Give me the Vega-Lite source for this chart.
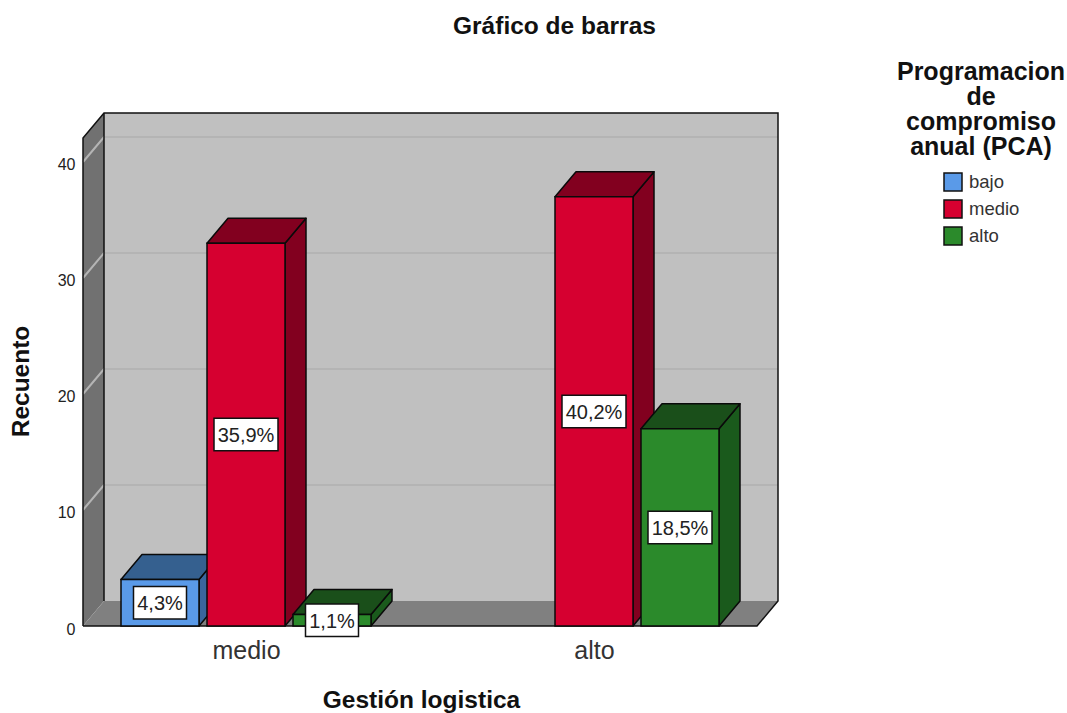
{
"$schema":"https://vega.github.io/schema/vega-lite/v6.json",
"autosize":{"type":"none"},
"padding":{"left":83,"top":113,"right":289,"bottom":87},
"width":695,"height":513,
"background":"white",
"config":{"view":{"stroke":null},"font":"Liberation Sans"},
"title":{"text":"Gráfico de barras","anchor":"start","frame":"group","dx":370,"offset":21,"fontSize":24.5,"fontWeight":"bold","font":"Liberation Sans","color":"#111111"},
"datasets":{
"barras":[
{"gestion":"medio","pca":"bajo","recuento":4,"pct":"4,3%"},
{"gestion":"medio","pca":"medio","recuento":33,"pct":"35,9%"},
{"gestion":"medio","pca":"alto","recuento":1,"pct":"1,1%"},
{"gestion":"alto","pca":"medio","recuento":37,"pct":"40,2%"},
{"gestion":"alto","pca":"alto","recuento":17,"pct":"18,5%"}
],
"paredes":[
{"cara":"fondo","n":0,"pos":0,"prof":1,"v":0},{"cara":"fondo","n":1,"pos":674,"prof":1,"v":0},{"cara":"fondo","n":2,"pos":674,"prof":1,"v":42.07},{"cara":"fondo","n":3,"pos":0,"prof":1,"v":42.07},
{"cara":"lateral","n":0,"pos":0,"prof":0,"v":0},{"cara":"lateral","n":1,"pos":0,"prof":1,"v":0},{"cara":"lateral","n":2,"pos":0,"prof":1,"v":42.07},{"cara":"lateral","n":3,"pos":0,"prof":0,"v":42.07},
{"cara":"suelo","n":0,"pos":0,"prof":0,"v":0},{"cara":"suelo","n":1,"pos":674,"prof":0,"v":0},{"cara":"suelo","n":2,"pos":674,"prof":1,"v":0},{"cara":"suelo","n":3,"pos":0,"prof":1,"v":0}
],
"rejilla":[
{"v":10,"n":0,"pos":0,"prof":0},{"v":10,"n":1,"pos":0,"prof":1},{"v":10,"n":2,"pos":674,"prof":1},
{"v":20,"n":0,"pos":0,"prof":0},{"v":20,"n":1,"pos":0,"prof":1},{"v":20,"n":2,"pos":674,"prof":1},
{"v":30,"n":0,"pos":0,"prof":0},{"v":30,"n":1,"pos":0,"prof":1},{"v":30,"n":2,"pos":674,"prof":1},
{"v":40,"n":0,"pos":0,"prof":0},{"v":40,"n":1,"pos":0,"prof":1},{"v":40,"n":2,"pos":674,"prof":1}
],
"bordes":[
{"b":"a","n":0,"pos":0,"prof":0,"v":0},{"b":"a","n":1,"pos":0,"prof":0,"v":42.07},{"b":"a","n":2,"pos":0,"prof":1,"v":42.07},{"b":"a","n":3,"pos":674,"prof":1,"v":42.07},{"b":"a","n":4,"pos":674,"prof":1,"v":0},{"b":"a","n":5,"pos":674,"prof":0,"v":0},{"b":"a","n":6,"pos":0,"prof":0,"v":0},
{"b":"c","n":0,"pos":0,"prof":1,"v":42.07},{"b":"c","n":1,"pos":0,"prof":1,"v":0}
]
},
"data":{"name":"barras"},
"transform":[
{"calculate":"(datum.gestion=='medio'?38:386)+indexof(['bajo','medio','alto'],datum.pca)*86","as":"x0"},
{"calculate":"datum.x0+78","as":"x1"},
{"calculate":"datum.x0+39","as":"xc"},
{"calculate":"datum.recuento/2","as":"yc"}
],
"layer":[
{"data":{"name":"paredes"},
 "transform":[{"calculate":"datum.pos+21*datum.prof","as":"px"},{"calculate":"datum.v+2.155*datum.prof","as":"py"}],
 "mark":{"type":"line","interpolate":"linear-closed","strokeWidth":0,"clip":false},
 "encoding":{
  "x":{"field":"px","type":"quantitative","scale":{"domain":[0,695],"nice":false,"zero":false},
   "axis":{"values":[163,511],"labelExpr":"datum.value<300?'medio':'alto'","domain":false,"ticks":false,"grid":false,"labelFontSize":25,"labelFont":"Liberation Sans","labelColor":"#333333","labelPadding":12,"title":"Gestión logistica","titleFontSize":24.5,"titleFont":"Liberation Sans","titleFontWeight":"bold","titleColor":"#111111","titleX":338,"titleY":62}},
  "y":{"field":"py","type":"quantitative","scale":{"domain":[0,44.224],"nice":false,"zero":false},
   "axis":{"values":[0,10,20,30,40],"format":"d","domain":false,"ticks":false,"grid":false,"labelFontSize":16,"labelFont":"Liberation Sans","labelColor":"#222222","labelPadding":8,"labelOffset":3,"title":"Recuento","titleFontSize":24.5,"titleFont":"Liberation Sans","titleFontWeight":"bold","titleColor":"#111111","titleX":-50,"titleY":268}},
  "fill":{"field":"cara","type":"nominal","legend":null,"scale":{"domain":["fondo","lateral","suelo"],"range":["#c0c0c0","#717171","#808080"]}},
  "detail":{"field":"cara"},
  "order":{"field":"n","type":"quantitative"}
 }},
{"data":{"name":"rejilla"},
 "transform":[{"calculate":"datum.pos+21*datum.prof","as":"px"},{"calculate":"datum.v+2.155*datum.prof","as":"py"}],
 "mark":{"type":"line","stroke":"#b4b4b4","strokeWidth":2},
 "encoding":{"x":{"field":"px","type":"quantitative"},"y":{"field":"py","type":"quantitative"},"detail":{"field":"v"},"order":{"field":"n","type":"quantitative"}}},
{"data":{"name":"bordes"},
 "transform":[{"calculate":"datum.pos+21*datum.prof","as":"px"},{"calculate":"datum.v+2.155*datum.prof","as":"py"}],
 "mark":{"type":"line","stroke":"#111111","strokeWidth":1.5},
 "encoding":{"x":{"field":"px","type":"quantitative"},"y":{"field":"py","type":"quantitative"},"detail":{"field":"b"},"order":{"field":"n","type":"quantitative"}}},
{"transform":[
  {"calculate":"[{f:'lado',n:0,x:datum.x1,d:0,v:0},{f:'lado',n:1,x:datum.x1,d:1,v:0},{f:'lado',n:2,x:datum.x1,d:1,v:datum.recuento},{f:'lado',n:3,x:datum.x1,d:0,v:datum.recuento},{f:'tapa',n:0,x:datum.x0,d:0,v:datum.recuento},{f:'tapa',n:1,x:datum.x1,d:0,v:datum.recuento},{f:'tapa',n:2,x:datum.x1,d:1,v:datum.recuento},{f:'tapa',n:3,x:datum.x0,d:1,v:datum.recuento}]","as":"vert"},
  {"flatten":["vert"]},
  {"calculate":"datum.vert.x+21*datum.vert.d","as":"px"},
  {"calculate":"datum.vert.v+2.155*datum.vert.d","as":"py"},
  {"calculate":"datum.vert.n","as":"n"},
  {"calculate":"datum.pca+'-'+datum.vert.f","as":"tono"},
  {"calculate":"datum.gestion+'-'+datum.tono","as":"pieza"}
 ],
 "mark":{"type":"line","interpolate":"linear-closed","stroke":"#0a0a0a","strokeWidth":1.5,"strokeJoin":"round"},
 "encoding":{
  "x":{"field":"px","type":"quantitative"},"y":{"field":"py","type":"quantitative"},
  "fill":{"field":"tono","type":"nominal","legend":null,"scale":{"domain":["bajo-lado","bajo-tapa","medio-lado","medio-tapa","alto-lado","alto-tapa"],"range":["#3a659c","#35608f","#82001f","#82001f","#1a5a1c","#1a4f1a"]}},
  "detail":{"field":"pieza"},
  "order":{"field":"n","type":"quantitative"}
 }},
{"mark":{"type":"rect","stroke":"#0a0a0a","strokeWidth":1.5},
 "encoding":{
  "x":{"field":"x0","type":"quantitative"},"x2":{"field":"x1"},
  "y":{"field":"recuento","type":"quantitative"},"y2":{"datum":0},
  "fill":{"field":"pca","type":"nominal","scale":{"domain":["bajo","medio","alto"],"range":["#5a9ae8","#d60030","#2b8a2b"]},
   "legend":{"orient":"none","legendX":814,"legendY":-53,"title":["Programacion","de","compromiso","anual (PCA)"],"titleFont":"Liberation Sans","titleFontSize":25,"titleFontWeight":"bold","titleColor":"#111111","titleLineHeight":25,"titleAlign":"center","titleAnchor":"middle","titlePadding":12,"symbolType":"square","symbolSize":324,"symbolStrokeColor":"#111111","symbolStrokeWidth":1.5,"symbolOpacity":1,"labelOffset":6,"labelFont":"Liberation Sans","labelFontSize":18.5,"labelColor":"#333333","rowPadding":3}}
 }},
{"transform":[
  {"calculate":"datum.xc-(length(datum.pct)>4?32:26.5)","as":"bx0"},
  {"calculate":"datum.xc+(length(datum.pct)>4?32:26.5)","as":"bx1"},
  {"calculate":"datum.yc-1.4","as":"by0"},
  {"calculate":"datum.yc+1.4","as":"by1"}
 ],
 "mark":{"type":"rect","fill":"white","stroke":"#111111","strokeWidth":1.5},
 "encoding":{"x":{"field":"bx0","type":"quantitative"},"x2":{"field":"bx1"},"y":{"field":"by0","type":"quantitative"},"y2":{"field":"by1"}}},
{"mark":{"type":"text","font":"Liberation Sans","fontSize":20,"color":"#222222","align":"center","baseline":"middle","dy":1.5},
 "encoding":{"x":{"field":"xc","type":"quantitative"},"y":{"field":"yc","type":"quantitative"},"text":{"field":"pct","type":"nominal"}}}
],
"resolve":{"scale":{"fill":"independent"}}
}
